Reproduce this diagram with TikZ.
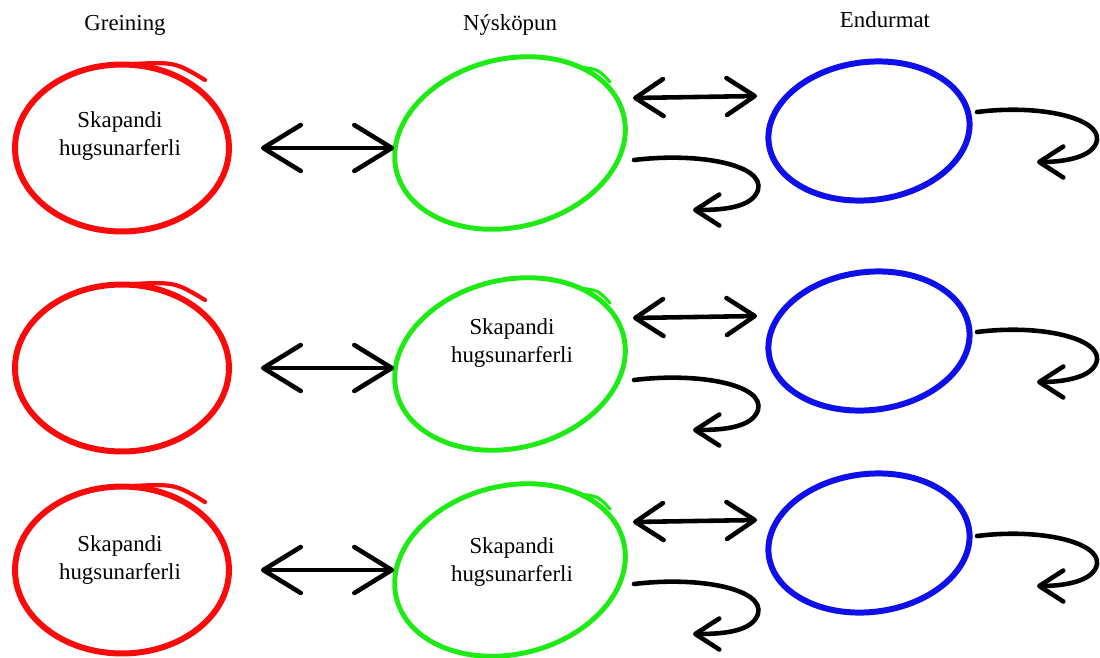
\documentclass[tikz,border=0pt]{standalone}
\usepackage{fontspec}
\setmainfont{Liberation Serif}
\usetikzlibrary{arrows.meta, shapes.geometric, positioning}
\definecolor{penred}{RGB}{250,10,10}
\definecolor{pengreen}{RGB}{30,235,20}
\definecolor{penblue}{RGB}{15,15,235}
\tikzset{
  bigtip/.tip={Straight Barb[length=0.75cm, width=0.92cm, round]},
  midtip/.tip={Straight Barb[length=0.56cm, width=0.74cm, round]},
  curltip/.tip={Straight Barb[length=0.48cm, width=0.62cm, round]},
}

\begin{document}
\begin{tikzpicture}[x=0.02cm, y=-0.02cm,
    ring/.style={ellipse, draw, inner sep=0pt},
    redring/.style={ring, penred, line width=3.4pt, minimum width=4.28cm, minimum height=3.34cm},
    greenring/.style={ring, pengreen, line width=2.8pt, minimum width=4.68cm, minimum height=3.36cm, rotate=14},
    bluering/.style={ring, penblue, line width=3.4pt, minimum width=4.04cm, minimum height=2.76cm, rotate=7},
    pen/.style={line width=2.6pt, line cap=round, line join=round},
    head/.style={font=\fontsize{13}{16}\selectfont},
    txt/.style={align=center, inner sep=0pt, font=\fontsize{13}{16}\selectfont}]
  \useasboundingbox (0,0) rectangle (1100,657);

  \node[head] (hr) at (125,25) {Greining};
  \node[head] (hn) at (510,25) {Nýsköpun};
  \node[head] (he) at (885,20) {Endurmat};

  \foreach \k/\ry/\gy/\by/\dy in {1/148/143/131/0, 2/368/364/341/220, 3/570/570/543/424}{
    \node[redring] (r\k) at (122,\ry) {};
    \node[greenring] (n\k) at (510,\gy) {};
    \node[bluering] (e\k) at (869,\by) {};
    % pen overshoot at the top right
    \draw[penred, line width=2.4pt, line cap=round] ([shift={(10,-84)}]r\k.center)
      .. controls ([shift={(53,-86)}]r\k.center) .. ([shift={(83,-68)}]r\k.center);
    \draw[pengreen, line width=1.8pt, line cap=round] ([shift={(67,-76)}]n\k.center)
      .. controls ([shift={(88,-74)}]n\k.center) .. ([shift={(100,-61)}]n\k.center);

    \coordinate (a\k) at (633,{98+\dy});
    \coordinate (b\k) at (757,{96+\dy});
    \coordinate (c\k) at (634,{160+\dy});
    \coordinate (d\k) at (693,{210+\dy});
    \coordinate (f\k) at (977,{112+\dy});
    \coordinate (h\k) at (1037,{162+\dy});

    \draw[pen, {bigtip}-{bigtip}] ([xshift=0.58cm]r\k.east) -- (r\k.east -| n\k.west);
    \draw[pen, {midtip}-{midtip}] (a\k) -- (b\k);
    \draw[pen, -{curltip}] (c\k) .. controls (700,{152+\dy}) and (765,{165+\dy}) .. (758,{190+\dy})
      .. controls (752,{208+\dy}) and (722,{210+\dy}) .. (d\k);
    \draw[pen, -{curltip}] (f\k) .. controls (1040,{104+\dy}) and (1100,{118+\dy}) .. (1097,{140+\dy})
      .. controls (1094,{158+\dy}) and (1062,{162+\dy}) .. (h\k);
  }

  \node[txt] (t1) at ([shift={(-2,-12)}]r1.center) {Skapandi\\hugsunarferli};
  \node[txt] (t2) at ([shift={(2,-21)}]n2.center) {Skapandi\\hugsunarferli};
  \node[txt] (t3) at ([shift={(-2,-10)}]r3.center) {Skapandi\\hugsunarferli};
  \node[txt] (t4) at ([shift={(2,-8)}]n3.center) {Skapandi\\hugsunarferli};
\end{tikzpicture}
\end{document}
